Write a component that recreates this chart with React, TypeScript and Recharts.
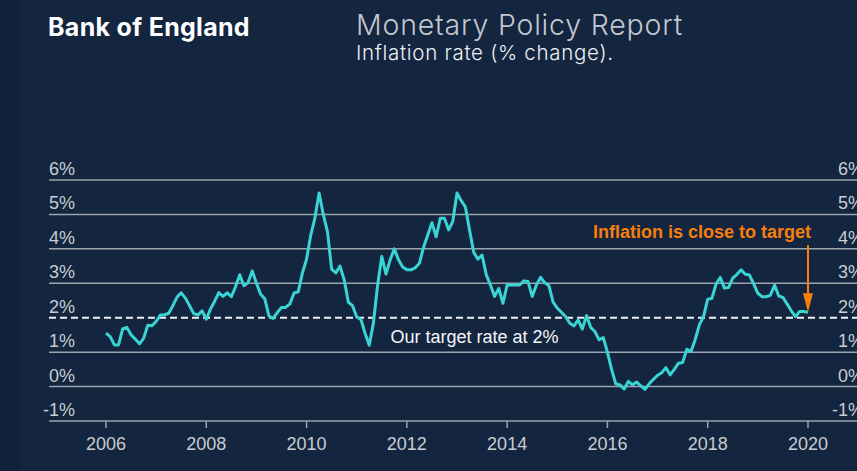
import { LineChart, Line, XAxis, YAxis, ReferenceLine, ReferenceDot } from 'recharts';

// CPI inflation, monthly from Jan 2006 to Jan 2020 (% change)
const cpi = [
  1.55, 1.45, 1.21, 1.21, 1.68, 1.72, 1.5, 1.38, 1.24, 1.4, 1.78, 1.77,
  1.89, 2.08, 2.08, 2.13, 2.35, 2.6, 2.72, 2.57, 2.35, 2.12, 2.08, 2.2,
  1.96, 2.25, 2.48, 2.73, 2.62, 2.72, 2.61, 2.9, 3.25, 2.93, 3.02, 3.36,
  3.0, 2.68, 2.55, 2.05, 1.98, 2.15, 2.3, 2.3, 2.4, 2.72, 2.75, 3.3,
  3.7, 4.4, 4.9, 5.62, 5.0, 4.5, 3.41, 3.3, 3.5, 3.1, 2.45, 2.35,
  2.02, 1.95, 1.55, 1.2, 1.85, 2.95, 3.78, 3.27, 3.68, 4.0, 3.68, 3.47,
  3.39, 3.39, 3.45, 3.58, 4.05, 4.4, 4.76, 4.35, 4.89, 4.89, 4.55, 4.8,
  5.62, 5.4, 5.22, 4.55, 3.9, 3.7, 3.82, 3.25, 2.95, 2.62, 2.85, 2.42,
  2.95, 2.95, 2.95, 2.95, 3.07, 3.05, 2.62, 2.95, 3.17, 3.02, 2.93, 2.45,
  2.28, 2.16, 2.03, 1.84, 1.76, 1.94, 1.67, 2.06, 1.72, 1.6, 1.36, 1.42,
  1.0, 0.5, 0.08, 0.05, -0.07, 0.15, 0.05, 0.13, 0.02, -0.08, 0.08, 0.21,
  0.33, 0.4, 0.55, 0.34, 0.5, 0.68, 0.7, 1.08, 1.02, 1.36, 1.79, 2.03,
  2.54, 2.56, 2.98, 3.17, 2.86, 2.88, 3.15, 3.26, 3.39, 3.26, 3.24, 2.98,
  2.71, 2.61, 2.61, 2.65, 2.95, 2.63, 2.59, 2.4, 2.2, 2.03, 2.18, 2.18,
  2.16,
];
const startYear = 2006;
const yearTicks = [2006, 2008, 2010, 2012, 2014, 2016, 2018, 2020];
const pctTicks = [-1, 0, 1, 2, 3, 4, 5, 6];
const target = 2;
const targetLabel = 'Our target rate at 2%';
const targetLabelYear = 2013.35;
const noteText = 'Inflation is close to target';
const noteTop = 4.11;

const data = cpi.map((v, i) => ({ t: startYear + i / 12, v }));
const last = data[data.length - 1];

const AXIS_FONT = '"Liberation Sans", Arial, sans-serif';
const TITLE_FONT = 'Inter, "Open Sans", sans-serif';
const TICK_FILL = '#c9ccd2';
const GRID = '#9aa3ae';
const ORANGE = '#f87f0a';

// one horizontal rule with its % label at both ends
const makeRule = (value: number) => ({ x1, y1, x2 }: any) => {
  const dashed = value === target;
  return (
    <g>
      <line
        x1={x1}
        y1={y1}
        x2={x2}
        y2={y1}
        stroke={dashed ? '#eef0f3' : GRID}
        strokeWidth={dashed ? 2 : 1.5}
        strokeDasharray={dashed ? '7 4' : undefined}
      />
      <text x={x1 + 26} y={y1 - 5} textAnchor="end" fill={TICK_FILL} fontSize={18} fontFamily={AXIS_FONT}>
        {value}%
      </text>
      <text x={x2 - 2} y={y1 - 5} textAnchor="end" fill={TICK_FILL} fontSize={18} fontFamily={AXIS_FONT}>
        {value}%
      </text>
    </g>
  );
};

const Arrow = ({ x1, y1, x2, y2 }: any) => (
  <g>
    <text x={x1 + 3} y={y1 - 7} textAnchor="end" fill={ORANGE} fontSize={18} fontWeight="bold" fontFamily={AXIS_FONT}>
      {noteText}
    </text>
    <line x1={x1} y1={y1} x2={x2} y2={y2 - 16} stroke={ORANGE} strokeWidth={2} />
    <polygon points={`${x2 - 5},${y2 - 19} ${x2 + 5},${y2 - 19} ${x2},${y2}`} fill={ORANGE} />
  </g>
);

const TargetText = ({ cx, cy }: any) => (
  <text x={cx} y={cy + 25} textAnchor="middle" fill="#f4f5f7" fontSize={18} fontFamily={AXIS_FONT}>
    {targetLabel}
  </text>
);

export default function App() {
  return (
    <div style={{ position: 'absolute', left: 0, top: 0, width: 857, height: 471, overflow: 'hidden', background: '#13253f' }}>
      <div style={{ position: 'absolute', left: 0, top: 0, width: 20, height: 471, background: '#10213a' }} />
      <svg width={857} height={80} style={{ position: 'absolute', left: 0, top: 0 }}>
        <text x={48} y={36} fill="#ffffff" fontSize={25} fontWeight={700} letterSpacing={0.3} fontFamily={TITLE_FONT}>
          Bank of England
        </text>
        <text x={356} y={35} fill="#c3c7cf" fontSize={28.5} fontWeight={300} letterSpacing={0.8} fontFamily={TITLE_FONT}>
          Monetary Policy Report
        </text>
        <text x={356} y={60} fill="#eef0f3" fontSize={20.5} fontWeight={300} letterSpacing={0.7} fontFamily={TITLE_FONT}>
          Inflation rate (% change).
        </text>
      </svg>
      <div style={{ position: 'absolute', left: 0, top: 0 }}>
        <LineChart width={900} height={471} data={data} margin={{ top: 180, right: 34, bottom: 10, left: 49 }}>
          <XAxis
            dataKey="t"
            type="number"
            domain={[2004.863, 2021.157]}
            allowDataOverflow
            ticks={yearTicks}
            height={40}
            axisLine={false}
            tickLine={{ stroke: GRID, strokeWidth: 1.5 }}
            tickSize={7}
            tickMargin={9}
            tick={{ fill: TICK_FILL, fontSize: 18, fontFamily: AXIS_FONT }}
          />
          <YAxis domain={[-1, 6]} ticks={pctTicks} hide />
          {pctTicks.map((p) => (
            <ReferenceLine key={p} y={p} shape={makeRule(p)} />
          ))}
          <ReferenceDot x={targetLabelYear} y={target} r={0} shape={<TargetText />} />
          <Line
            type="linear"
            dataKey="v"
            stroke="#3ad4d4"
            strokeWidth={3}
            strokeLinejoin="round"
            dot={false}
            isAnimationActive={false}
          />
          <ReferenceLine
            segment={[{ x: last.t, y: noteTop }, { x: last.t, y: last.v }]}
            shape={<Arrow />}
          />
        </LineChart>
      </div>
    </div>
  );
}
